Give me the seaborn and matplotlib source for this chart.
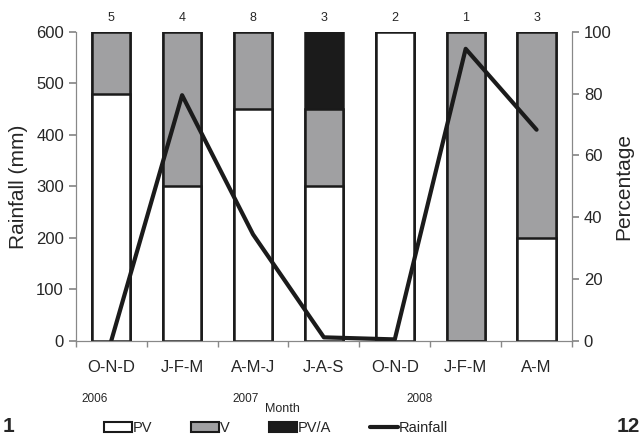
import numpy as np
import pandas as pd
import seaborn as sns
import matplotlib.pyplot as plt
from matplotlib.patches import Patch
from matplotlib.lines import Line2D

periods = ["O-N-D", "J-F-M", "A-M-J", "J-A-S", "O-N-D ", "J-F-M ", "A-M"]
labels = ["O-N-D", "J-F-M", "A-M-J", "J-A-S", "O-N-D", "J-F-M", "A-M"]
pv = [80, 50, 75, 50, 100, 0, 33.3]
v = [20, 50, 25, 25, 0, 100, 66.7]
pva = [0, 0, 0, 25, 0, 0, 0]
counts = [5, 4, 8, 3, 2, 1, 3]
rainfall = [0, 477, 207, 7, 3, 567, 410]
years = ["2006", "2007", "2008"]

sns.set_theme(style="ticks")
plt.rcParams['font.family'] = ['Liberation Sans', 'DejaVu Sans']

df = pd.DataFrame({"period": periods, "PV": pv, "V": v, "PV/A": pva, "rain": rainfall})

fig = plt.figure(figsize=(6.42, 4.36), dpi=100)
ax = fig.add_axes([0.118, 0.218, 0.773, 0.709])

# stacked bars: draw cumulative totals back to front
grey = "#a0a0a2"
edge = "#1a1a1a"
sns.barplot(data=df, x="period", y=df["PV"] + df["V"] + df["PV/A"], color="#1b1b1b",
            width=0.54, edgecolor=edge, linewidth=1.8, ax=ax, saturation=1)
sns.barplot(data=df, x="period", y=df["PV"] + df["V"], color=grey,
            width=0.54, edgecolor=edge, linewidth=1.8, ax=ax, saturation=1)
sns.barplot(data=df, x="period", y="PV", color="white",
            width=0.54, edgecolor=edge, linewidth=1.8, ax=ax, saturation=1)

ax.set_ylim(0, 100)
ax.set_xlim(-0.5, 6.5)
ax.set_yticks([0, 20, 40, 60, 80, 100])
ax.set_xlabel("")
ax.set_xticks(range(7))
ax.set_xticklabels(labels, fontsize=12)
ax.set_xticks(np.arange(-0.5, 7, 1), minor=True)
ax.tick_params(axis="x", which="major", length=0, pad=14)
ax.tick_params(axis="x", which="minor", length=4, color="#888888")

for i, c in enumerate(counts):
    ax.text(i, 102.5, str(c), ha="center", va="bottom", fontsize=9)

# rainfall line on top
ax2 = ax.twinx()
sns.lineplot(data=df, x=np.arange(7), y="rain", color="#1b1b1b", linewidth=3, ax=ax2)
ax2.set_ylim(0, 600)
ax2.set_yticks([0, 100, 200, 300, 400, 500, 600])
ax2.set_xlim(-0.5, 6.5)

# swap sides: percentage on the right, rainfall on the left
ax.yaxis.tick_right()
ax.yaxis.set_label_position("right")
ax2.yaxis.tick_left()
ax2.yaxis.set_label_position("left")
ax.set_ylabel("Percentage", fontsize=15, labelpad=2)
ax2.set_ylabel("Rainfall (mm)", fontsize=15, labelpad=6)
ax.tick_params(axis="y", labelsize=12, length=5, color="#888888")
ax2.tick_params(axis="y", labelsize=12, length=5, color="#888888")

for a in (ax, ax2):
    a.spines["top"].set_visible(False)
    for s in ["left", "right", "bottom"]:
        a.spines[s].set_color("#888888")
        a.spines[s].set_linewidth(0.8)

fig.text(0.147, 0.079, years[0], fontsize=8.5, ha="center")
fig.text(0.382, 0.079, years[1], fontsize=8.5, ha="center")
fig.text(0.653, 0.079, years[2], fontsize=8.5, ha="center")
fig.text(0.44, 0.056, "Month", fontsize=9, ha="center")
fig.text(0.004, 0.01, "1", fontsize=15, fontweight="bold", ha="left")
fig.text(0.997, 0.01, "12", fontsize=15, fontweight="bold", ha="right")

handles = [Patch(facecolor="white", edgecolor=edge, linewidth=1.5, label="PV"),
           Patch(facecolor=grey, edgecolor=edge, linewidth=1.5, label="V"),
           Patch(facecolor="#1b1b1b", edgecolor=edge, linewidth=1.5, label="PV/A"),
           Line2D([0], [0], color="#1b1b1b", linewidth=3, label="Rainfall")]
fig.legend(handles=handles, loc="lower center", bbox_to_anchor=(0.43, -0.028), ncol=4,
           frameon=False, fontsize=10.5, handlelength=1.9, handleheight=0.6,
           handletextpad=0.05, columnspacing=2.7)

fig.savefig("out.png", dpi=100)
